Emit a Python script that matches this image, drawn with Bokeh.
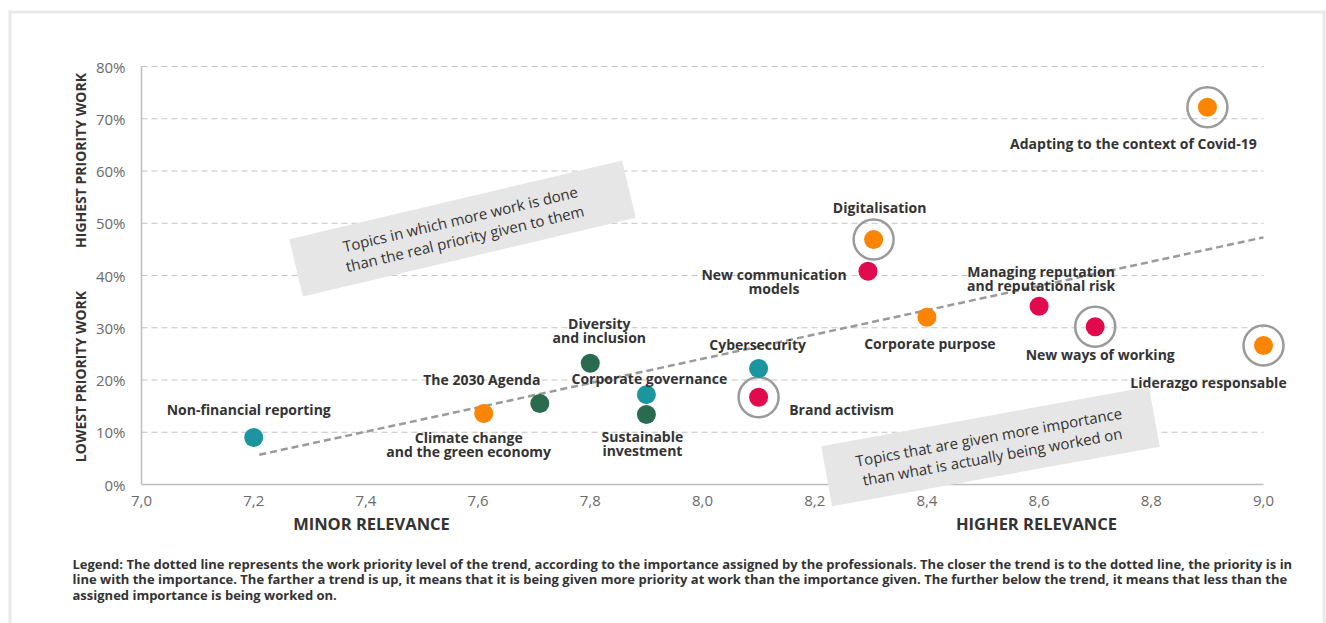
import math
from bokeh.plotting import figure
from bokeh.models import (ColumnDataSource, Range1d, FixedTicker, CustomJSTickFormatter,
                          Label, PolyAnnotation)
from bokeh.core.properties import value
from bokeh.embed import file_html
from bokeh.resources import INLINE

# ---------------- data ----------------
topics = ["Non-financial reporting", "Climate change\nand the green economy", "The 2030 Agenda",
          "Diversity\nand inclusion", "Corporate governance", "Sustainable\ninvestment",
          "Cybersecurity", "Brand activism", "New communication\nmodels", "Digitalisation",
          "Corporate purpose", "Managing reputation\nand reputational risk", "New ways of working",
          "Liderazgo responsable", "Adapting to the context of Covid-19"]
relevance = [7.2, 7.61, 7.71, 7.8, 7.9, 7.9, 8.1, 8.1, 8.295, 8.305, 8.4, 8.6, 8.7, 9.0, 8.9]
priority = [9.0, 13.6, 15.5, 23.2, 17.2, 13.4, 22.2, 16.7, 40.8, 46.9, 32.0, 34.1, 30.2, 26.6, 72.2]
group = ["teal", "orange", "green", "green", "teal", "green", "teal", "red", "red", "orange",
         "orange", "red", "red", "orange", "orange"]
highlighted = [False, False, False, False, False, False, False, True, False, True,
               False, False, True, True, True]
trend_x = [7.21, 9.0]
trend_y = [5.7, 47.3]
x_ticks = [7.0, 7.2, 7.4, 7.6, 7.8, 8.0, 8.2, 8.4, 8.6, 8.8, 9.0]
y_ticks = [0, 10, 20, 30, 40, 50, 60, 70, 80]

# ---------------- styles ----------------
palette = {"teal": "#1B96A0", "orange": "#FB8500", "green": "#2A6B4F", "red": "#E20A4F"}
# label offsets in pixels (dx, dy; dy positive = down)
label_offsets = [(-5, -28), (-15, 31), (-58, -24), (9, -33), (3, -16), (-4, 29), (-1, -24),
                 (83, 12), (-94, 10), (6, -32), (3, 26), (2, -28), (5, 28), (-55, 37), (-74, 36)]
FONT = "Open Sans"
W, H = 1326, 623
AX_L, AX_R, AX_T, AX_B = 141, 1263, 66, 484   # pixel positions of 7.0, 9.0, 80%, 0%
X0, X1, Y0, Y1 = 7.0, 9.0, 0.0, 80.0
PX_PER_X = (AX_R - AX_L) / (X1 - X0)
PX_PER_Y = (AX_B - AX_T) / (Y1 - Y0)


def px2x(px):
    return X0 + (px - AX_L) / PX_PER_X


def py2y(py):
    return Y0 + (AX_B - py) / PX_PER_Y


# frame spans the whole canvas; axes are pinned with fixed_location
p = figure(width=W, height=H, output_backend="svg", toolbar_location=None,
           x_range=Range1d(px2x(0), px2x(W)), y_range=Range1d(py2y(H), py2y(0)),
           min_border=0)
p.outline_line_color = None
p.background_fill_color = "white"
p.border_fill_color = "white"
p.xgrid.visible = False
p.ygrid.visible = False

for ax in (p.xaxis[0], p.yaxis[0]):
    ax.axis_line_color = "#BDBDBD"
    ax.axis_line_width = 1.5
    ax.major_tick_line_color = None
    ax.minor_tick_line_color = None
    ax.major_label_text_font = FONT
    ax.major_label_text_font_size = "15px"
    ax.major_label_text_color = "#6A6A6A"
p.xaxis.fixed_location = Y0
p.xaxis.bounds = (X0, X1)
p.xaxis.ticker = FixedTicker(ticks=x_ticks)
p.xaxis.formatter = CustomJSTickFormatter(code="return tick.toFixed(1).replace('.', ',');")
p.xaxis.major_label_standoff = 5
p.yaxis.fixed_location = X0
p.yaxis.bounds = (Y0, Y1)
p.yaxis.ticker = FixedTicker(ticks=y_ticks)
p.yaxis.formatter = CustomJSTickFormatter(code="return tick.toFixed(0) + '%';")
p.yaxis.major_label_standoff = 10

# page frame border
for xs_px, ys_px in [([8, 11, 11, 8], [10, 10, 623, 623]),
                     ([8, 1325, 1325, 8], [10, 10, 13, 13]),
                     ([1322, 1325, 1325, 1322], [10, 10, 623, 623])]:
    p.add_layout(PolyAnnotation(xs=[px2x(v) for v in xs_px], ys=[py2y(v) for v in ys_px],
                                fill_color="#E9E9E9", fill_alpha=1, line_color=None,
                                level="underlay"))

# dashed grid lines between 7 and 9
p.segment(x0=[X0] * (len(y_ticks) - 1), x1=[X1] * (len(y_ticks) - 1),
          y0=y_ticks[1:], y1=y_ticks[1:], line_color="#C4C4C4", line_width=1,
          line_dash="6 4")

# trend line
p.line(trend_x, trend_y, line_color="#9A9A9A", line_width=2.5, line_dash="7 4")

# points
src = ColumnDataSource(dict(
    x=relevance, y=priority, label=topics,
    color=[palette[g] for g in group],
    dx=[o[0] for o in label_offsets], dy=[o[1] for o in label_offsets]))
ring_src = ColumnDataSource(dict(
    x=[x for x, h in zip(relevance, highlighted) if h],
    y=[y for y, h in zip(priority, highlighted) if h]))
p.scatter("x", "y", source=ring_src, size=40, fill_color=None, line_color="#9A9A9A",
          line_width=2.5)
p.scatter("x", "y", source=src, size=19, fill_color="color", line_color=None)
p.text("x", "y", text="label", source=src, x_offset="dx", y_offset="dy",
       text_align="center", text_baseline="middle", text_font=value(FONT),
       text_font_style="bold", text_font_size="14px", text_color="#333333",
       text_line_height=0.74)


# grey rotated boxes
def rotated_box(cx, cy, w, h, ang_deg):
    a = math.radians(ang_deg)
    xs, ys = [], []
    for ux, uy in [(-w / 2, -h / 2), (w / 2, -h / 2), (w / 2, h / 2), (-w / 2, h / 2)]:
        sx = cx + ux * math.cos(a) + uy * math.sin(a)
        sy = cy - ux * math.sin(a) + uy * math.cos(a)
        xs.append(px2x(sx))
        ys.append(py2y(sy))
    return xs, ys


for (cx, cy, w, h, ang, lines) in [
        (462, 228, 342, 59, 13.3, [("Topics in which more work is done", -10),
                                    ("than the real priority given to them", 10)]),
        (990, 446, 333, 61, 10.3, [("Topics that are given more importance", -10),
                                    ("than what is actually being worked on", 10)])]:
    xs, ys = rotated_box(cx, cy, w, h, ang)
    p.add_layout(PolyAnnotation(xs=xs, ys=ys, fill_color="#E6E6E6", fill_alpha=1,
                                line_color=None, level="overlay"))
    a = math.radians(ang)
    for txt, off in lines:
        lx = cx + off * math.sin(a)
        ly = cy + off * math.cos(a)
        p.add_layout(Label(x=px2x(lx), y=py2y(ly), text=txt, angle=a, text_align="center",
                           text_baseline="middle", text_font=FONT, text_font_size="15px",
                           text_color="#333333", level="overlay"))

# axis titles
for txt, px, py, ang, fs in [("HIGHEST PRIORITY WORK", 80, 160, math.pi / 2, "14px"),
                             ("LOWEST PRIORITY WORK", 80, 376, math.pi / 2, "14px"),
                             ("MINOR RELEVANCE", 371, 523, 0, "16.5px"),
                             ("HIGHER RELEVANCE", 1036, 523, 0, "16.5px")]:
    p.add_layout(Label(x=px2x(px), y=py2y(py), text=txt, angle=ang, text_align="center",
                       text_baseline="middle", text_font=FONT, text_font_size=fs,
                       text_font_style="bold", text_color="#333333"))

# legend note
note = ["Legend: The dotted line represents the work priority level of the trend, according to the importance assigned by the professionals. The closer the trend is to the dotted line, the priority is in",
        "line with the importance. The farther a trend is up, it means that it is being given more priority at work than the importance given. The further below the trend, it means that less than the",
        "assigned importance is being worked on."]
for i, line in enumerate(note):
    p.add_layout(Label(x=px2x(72), y=py2y(563 + i * 15.5), text=line, text_align="left",
                       text_baseline="middle", text_font=FONT, text_font_size="13px",
                       text_font_style="bold", text_color="#333333"))

open("out.html", "w").write(file_html(p, INLINE))
